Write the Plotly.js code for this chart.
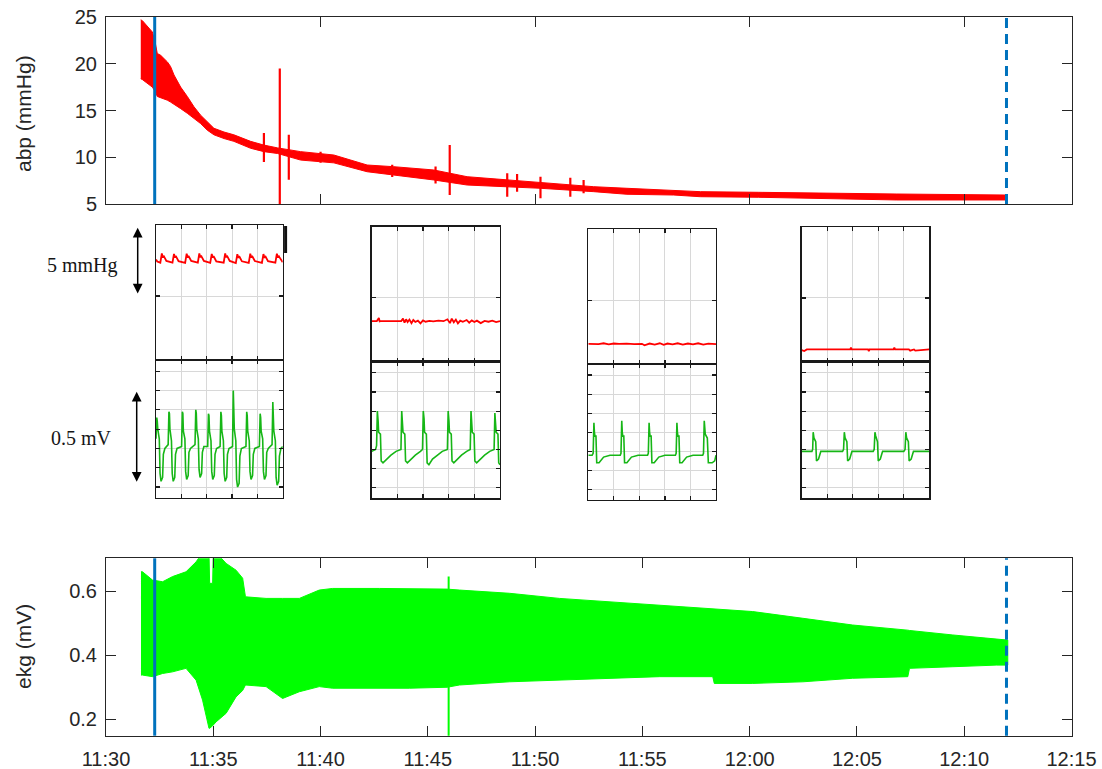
<!DOCTYPE html>
<html>
<head>
<meta charset="utf-8">
<script src="https://cdn.plot.ly/plotly-3.0.1.min.js"></script>
<style>
html,body{margin:0;padding:0;background:#fff;}
#chart{width:1102px;height:769px;}
</style>
</head>
<body>
<div id="chart"></div>
<script>
// ---------- recording overview: time in minutes after 11:30 ----------
const timeTickVals = [0, 5, 10, 15, 20, 25, 30, 35, 40, 45];
const timeTickText = ['11:30','11:35','11:40','11:45','11:50','11:55','12:00','12:05','12:10','12:15'];
const eventTimes = [2.27, 41.97];   // start marker (solid) and end marker (dashed)

// arterial blood pressure envelope (mmHg)
const abpT  = [1.62,1.70,2.16,2.30,2.39,2.55,2.86,3.01,3.17,3.48,3.79,4.10,4.41,4.72,5.03,5.50,5.96,6.74,7.36,8.00,9.07,10.62,11.86,12.17,13.41,15.28,16.83,18.70,20.25,22.73,24.28,26.46,27.70,30.40,33.50,36.86,41.95];
const abpHi = [24.7,24.6,23.4,22.2,21.1,20.9,20.2,19.7,18.8,17.5,16.5,15.4,14.5,13.8,13.1,12.7,12.4,11.7,11.3,11.0,10.6,10.24,9.35,9.17,8.99,8.64,7.92,7.57,7.28,6.85,6.68,6.50,6.32,6.25,6.15,6.07,5.96];
const abpLo = [18.4,18.3,17.5,17.0,16.5,16.4,16.1,15.9,15.7,15.2,14.7,14.2,13.6,12.9,12.4,12.0,11.7,10.96,10.6,10.4,9.7,9.4,8.64,8.45,8.10,7.57,7.03,6.85,6.68,6.32,6.04,5.96,5.78,5.72,5.60,5.43,5.43];
// short artefact transients in abp
const abpSpikeT  = [7.36,8.10,8.52,10.00,13.34,15.36,16.02,18.70,19.16,20.25,21.64,22.26];
const abpSpikeLo = [9.5,4.0,7.6,9.4,7.9,7.2,5.96,5.78,6.32,5.61,5.78,6.14];
const abpSpikeHi = [12.6,19.5,12.4,10.6,9.2,9.0,11.3,8.28,8.21,7.92,7.82,7.57];

// ekg envelope (mV)
const ekgT  = [1.63,1.70,2.17,2.64,3.10,3.73,4.20,4.50,4.80,4.83,4.97,5.00,5.13,5.60,6.06,6.37,6.50,7.46,8.23,9.01,9.94,10.56,12.74,14.14,15.90,16.47,18.80,21.13,23.46,25.80,28.28,28.35,30.14,32.48,34.80,37.37,37.45,39.47,41.49,42.03];
const ekgHi = [0.660,0.660,0.634,0.629,0.645,0.660,0.691,0.720,0.720,0.624,0.624,0.720,0.720,0.686,0.665,0.640,0.582,0.577,0.577,0.577,0.603,0.608,0.608,0.608,0.606,0.603,0.593,0.577,0.567,0.556,0.546,0.545,0.536,0.515,0.494,0.478,0.477,0.463,0.452,0.447];
const ekgLo = [0.338,0.338,0.333,0.343,0.348,0.359,0.322,0.260,0.172,0.172,0.180,0.180,0.192,0.219,0.270,0.290,0.307,0.302,0.265,0.286,0.302,0.297,0.297,0.297,0.300,0.307,0.317,0.322,0.328,0.333,0.333,0.312,0.312,0.317,0.328,0.333,0.359,0.364,0.369,0.369];
const ekgSpikeT  = [15.97];
const ekgSpikeLo = [0.10];
const ekgSpikeHi = [0.645];

// ---------- 5 s detail windows (time in s) ----------
const ins1AbpT = [0.00,0.05,0.17,0.23,0.27,0.30,0.33,0.41, 0.65,0.71,0.75,0.78,0.81,0.89, 1.15,1.21,1.25,1.28,1.31,1.39, 1.65,1.71,1.75,1.78,1.81,1.89, 2.14,2.20,2.24,2.27,2.30,2.38, 2.67,2.73,2.77,2.80,2.83,2.91, 3.15,3.21,3.25,3.28,3.31,3.39, 3.66,3.72,3.76,3.79,3.82,3.90, 4.18,4.24,4.28,4.31,4.34,4.42, 4.71,4.77,4.81,4.84,4.87,4.95,5.00];
const ins1AbpV = [17.70,17.55,17.47,18.15,17.85,17.98,17.88,17.60, 17.47,18.12,17.84,17.96,17.86,17.58, 17.46,18.14,17.85,17.97,17.87,17.60, 17.48,18.16,17.86,18.00,17.88,17.60, 17.45,18.12,17.84,17.95,17.85,17.57, 17.47,18.15,17.86,17.98,17.88,17.60, 17.44,18.10,17.82,17.95,17.85,17.57, 17.46,18.13,17.84,17.97,17.87,17.59, 17.45,18.11,17.83,17.96,17.86,17.58, 17.47,18.14,17.85,17.98,17.88,17.60,17.50];
const ins2AbpT = [0.00,0.20,0.28,0.31,0.34,0.60,0.90,1.15,1.22,1.28,1.34,1.40,1.47,1.55,1.62,1.70,1.80,1.90,2.00,2.10,2.25,2.40,2.60,2.80,2.95,3.05,3.12,3.20,3.28,3.36,3.45,3.55,3.70,3.80,3.90,4.00,4.10,4.25,4.40,4.55,4.70,4.85,5.00];
const ins2AbpV = [13.27,13.27,13.50,13.25,13.27,13.28,13.26,13.27,13.45,13.15,13.40,13.20,13.38,13.12,13.35,13.20,13.30,13.10,13.32,13.22,13.28,13.25,13.30,13.26,13.40,13.12,13.45,13.18,13.38,13.10,13.30,13.22,13.35,13.15,13.32,13.20,13.30,13.12,13.28,13.22,13.30,13.20,13.26];
const ins3AbpT = [0.00,0.40,0.60,0.80,1.00,1.20,1.50,1.80,2.10,2.20,2.40,2.60,2.80,2.95,3.10,3.30,3.50,3.70,3.90,4.10,4.30,4.50,4.70,5.00];
const ins3AbpV = [11.76,11.74,11.80,11.72,11.78,11.75,11.78,11.74,11.76,11.65,11.78,11.70,11.80,11.68,11.78,11.72,11.80,11.70,11.78,11.72,11.80,11.70,11.77,11.74];
const ins4AbpT = [0.00,0.10,0.20,1.00,1.90,1.93,1.96,2.60,2.63,2.66,3.60,3.63,3.66,4.20,4.25,4.40,4.45,5.00];
const ins4AbpV = [11.12,11.05,11.17,11.17,11.17,11.32,11.17,11.17,11.05,11.17,11.17,11.30,11.17,11.17,11.08,11.17,11.08,11.17];

const ins1EkgT = [0.00,0.03,0.05,0.07,0.13,0.16,0.20,0.26,0.29,0.35,0.48,
  0.51,0.53,0.55,0.61,0.64,0.68,0.74,0.77,0.83,1.01,
  1.04,1.06,1.08,1.14,1.17,1.21,1.27,1.30,1.36,1.54,
  1.57,1.59,1.61,1.67,1.70,1.74,1.80,1.83,1.89,2.04,
  2.07,2.09,2.11,2.17,2.20,2.24,2.30,2.33,2.39,2.53,
  2.56,2.58,2.60,2.66,2.69,2.73,2.79,2.82,2.88,3.02,
  3.05,3.07,3.09,3.15,3.18,3.22,3.28,3.31,3.37,3.55,
  3.58,3.60,3.62,3.68,3.71,3.75,3.81,3.84,3.90,4.08,
  4.11,4.13,4.15,4.21,4.24,4.28,4.34,4.37,4.43,4.58,
  4.61,4.63,4.65,4.71,4.74,4.78,4.84,4.87,4.93,5.00];
const ins1EkgV = [0.45,0.56,0.54,0.50,0.45,0.27,0.23,0.25,0.37,0.40,0.42,
  0.59,0.58,0.50,0.44,0.27,0.23,0.25,0.37,0.40,0.41,
  0.59,0.58,0.49,0.45,0.28,0.24,0.26,0.38,0.40,0.42,
  0.60,0.58,0.50,0.45,0.29,0.25,0.27,0.38,0.41,0.41,
  0.58,0.57,0.49,0.44,0.28,0.24,0.26,0.37,0.40,0.41,
  0.59,0.57,0.49,0.44,0.27,0.23,0.25,0.37,0.40,0.41,
  0.70,0.60,0.50,0.44,0.24,0.20,0.22,0.36,0.40,0.41,
  0.59,0.57,0.49,0.44,0.28,0.24,0.26,0.37,0.40,0.41,
  0.58,0.56,0.49,0.45,0.28,0.24,0.26,0.38,0.40,0.42,
  0.64,0.58,0.49,0.44,0.25,0.21,0.23,0.36,0.40,0.41];
const ins2EkgT = [0.00,0.15,0.19,0.22,0.25,0.27,0.34,0.37,0.44,0.58,0.75,0.95,1.14,
  1.17,1.20,1.22,1.29,1.32,1.39,1.53,1.70,1.90,1.98,
  2.01,2.04,2.06,2.13,2.16,2.23,2.37,2.55,2.75,2.95,
  2.98,3.01,3.03,3.10,3.13,3.20,3.34,3.50,3.70,3.84,
  3.87,3.90,3.92,3.99,4.02,4.09,4.23,4.40,4.60,4.77,
  4.80,4.83,4.85,4.92,4.95,5.00];
const ins2EkgV = [0.39,0.40,0.42,0.60,0.55,0.49,0.48,0.34,0.33,0.35,0.37,0.39,0.40,
  0.60,0.55,0.49,0.48,0.34,0.33,0.35,0.37,0.39,0.40,
  0.60,0.56,0.49,0.48,0.33,0.32,0.35,0.37,0.39,0.40,
  0.60,0.55,0.49,0.48,0.34,0.33,0.35,0.37,0.39,0.40,
  0.60,0.55,0.49,0.48,0.34,0.33,0.35,0.37,0.39,0.40,
  0.59,0.55,0.49,0.48,0.33,0.32];
const ins3EkgT = [0.00,0.15,0.19,0.22,0.24,0.26,0.30,0.33,0.42,0.60,0.85,1.25,1.28,
  1.31,1.33,1.35,1.39,1.42,1.51,1.69,1.95,2.32,2.35,
  2.38,2.40,2.42,2.46,2.49,2.58,2.76,3.00,3.41,3.44,
  3.47,3.49,3.51,3.55,3.58,3.67,3.85,4.10,4.48,4.51,
  4.54,4.56,4.58,4.66,4.70,4.85,4.95,5.00];
const ins3EkgV = [0.38,0.38,0.39,0.55,0.50,0.48,0.48,0.34,0.34,0.37,0.38,0.38,0.39,
  0.56,0.50,0.48,0.48,0.34,0.34,0.37,0.38,0.38,0.39,
  0.55,0.50,0.48,0.48,0.34,0.34,0.37,0.38,0.38,0.39,
  0.55,0.50,0.48,0.48,0.34,0.34,0.37,0.38,0.38,0.39,
  0.56,0.50,0.49,0.47,0.34,0.34,0.35,0.38];
const ins4EkgT = [0.00,0.40,0.43,0.45,0.48,0.52,0.55,0.58,0.66,0.75,1.60,1.64,
  1.67,1.70,1.74,1.77,1.80,1.88,1.97,2.80,2.84,
  2.87,2.90,2.94,2.97,3.00,3.08,3.17,4.00,4.05,
  4.08,4.11,4.15,4.18,4.21,4.29,4.38,5.00];
const ins4EkgV = [0.39,0.39,0.40,0.49,0.46,0.45,0.44,0.34,0.35,0.39,0.39,0.40,
  0.49,0.46,0.45,0.44,0.34,0.35,0.39,0.39,0.40,
  0.49,0.47,0.45,0.44,0.34,0.35,0.39,0.39,0.40,
  0.49,0.46,0.45,0.44,0.34,0.35,0.39,0.39];

const insetAbp = [[ins1AbpT, ins1AbpV], [ins2AbpT, ins2AbpV], [ins3AbpT, ins3AbpV], [ins4AbpT, ins4AbpV]];
const insetEkg = [[ins1EkgT, ins1EkgV], [ins2EkgT, ins2EkgV], [ins3EkgT, ins3EkgV], [ins4EkgT, ins4EkgV]];

// ---------- page geometry ----------
const W = 1102, H = 769;
const fx = px => px / W;
const fy = py => 1 - py / H;

const AXIS = '#262626';
const FONT = 'Liberation Sans, Arial, Helvetica, sans-serif';
const SERIF = 'Liberation Serif, Times New Roman, serif';
const RED = '#ff0000', GREEN = '#00ff00', DETAIL_GREEN = '#16b616', BLUE = '#0072bd';

const mainX = [fx(106), fx(1071.5)];
const insetBoxes = [
  {x0: 156.0, x1: 282.7, top: 225.0, mid: 360.0, bot: 497.7},
  {x0: 371.7, x1: 500.0, top: 226.7, mid: 361.7, bot: 498.3},
  {x0: 588.3, x1: 716.0, top: 229.3, mid: 364.0, bot: 500.0},
  {x0: 801.7, x1: 929.3, top: 227.3, mid: 361.7, bot: 498.3}
];

function envelope(t, hi, lo) {
  return {
    x: t.concat(t.slice().reverse()),
    y: hi.concat(lo.slice().reverse())
  };
}
function verticals(t, lo, hi) {
  const x = [], y = [];
  t.forEach((v, i) => { x.push(v, v, null); y.push(lo[i], hi[i], null); });
  return {x, y};
}

const traces = [];
const abpEnv = envelope(abpT, abpHi, abpLo);
traces.push({x: abpEnv.x, y: abpEnv.y, xaxis: 'x', yaxis: 'y', type: 'scatter', mode: 'lines',
  fill: 'toself', fillcolor: RED, line: {color: RED, width: 1}, hoverinfo: 'skip'});
const abpSp = verticals(abpSpikeT, abpSpikeLo, abpSpikeHi);
traces.push({x: abpSp.x, y: abpSp.y, xaxis: 'x', yaxis: 'y', type: 'scatter', mode: 'lines',
  line: {color: RED, width: 2.2}, hoverinfo: 'skip'});

const ekgEnv = envelope(ekgT, ekgHi, ekgLo);
traces.push({x: ekgEnv.x, y: ekgEnv.y, xaxis: 'x2', yaxis: 'y2', type: 'scatter', mode: 'lines',
  fill: 'toself', fillcolor: GREEN, line: {color: GREEN, width: 1}, hoverinfo: 'skip'});
const ekgSp = verticals(ekgSpikeT, ekgSpikeLo, ekgSpikeHi);
traces.push({x: ekgSp.x, y: ekgSp.y, xaxis: 'x2', yaxis: 'y2', type: 'scatter', mode: 'lines',
  line: {color: GREEN, width: 2}, hoverinfo: 'skip'});

const layout = {
  width: W, height: H,
  margin: {l: 0, r: 0, t: 0, b: 0, pad: 0},
  paper_bgcolor: '#ffffff', plot_bgcolor: 'rgba(0,0,0,0)',
  showlegend: false,
  font: {family: FONT, color: AXIS, size: 20},
  xaxis: {domain: mainX, anchor: 'y', range: [0, 45], tickvals: [0, 10, 20, 30, 40],
    showticklabels: false, ticks: 'inside', ticklen: 10, tickcolor: AXIS, tickwidth: 1,
    showline: true, linecolor: AXIS, linewidth: 1, mirror: 'ticks', showgrid: false, zeroline: false},
  yaxis: {domain: [fy(204), fy(17)], anchor: 'x', range: [5, 25], tickvals: [5, 10, 15, 20, 25],
    ticks: 'inside', ticklen: 10, tickcolor: AXIS, showline: true, linecolor: AXIS, linewidth: 1,
    mirror: 'ticks', showgrid: false, zeroline: false, ticklabelstandoff: 4,
    tickfont: {family: FONT, size: 20, color: AXIS}},
  xaxis2: {domain: mainX, anchor: 'y2', range: [0, 45], tickvals: timeTickVals, ticktext: timeTickText,
    ticks: 'inside', ticklen: 10, tickcolor: AXIS, showline: true, linecolor: AXIS, linewidth: 1,
    mirror: 'ticks', showgrid: false, zeroline: false, ticklabelstandoff: 5,
    tickfont: {family: FONT, size: 20, color: AXIS}},
  yaxis2: {domain: [fy(735.7), fy(558.3)], anchor: 'x2', range: [0.149, 0.702], tickvals: [0.2, 0.4, 0.6],
    ticktext: ['0.2', '0.4', '0.6'], ticks: 'inside', ticklen: 10, tickcolor: AXIS, showline: true,
    linecolor: AXIS, linewidth: 1, mirror: 'ticks', showgrid: false, zeroline: false, ticklabelstandoff: 4,
    tickfont: {family: FONT, size: 20, color: AXIS}},
  shapes: [
    {type: 'line', xref: 'x', yref: 'y domain', x0: eventTimes[0], x1: eventTimes[0], y0: 0, y1: 1,
      line: {color: BLUE, width: 3}},
    {type: 'line', xref: 'x', yref: 'y domain', x0: eventTimes[1], x1: eventTimes[1], y0: 0, y1: 1,
      line: {color: BLUE, width: 3, dash: '10px,6px'}},
    {type: 'line', xref: 'x2', yref: 'y2 domain', x0: eventTimes[0], x1: eventTimes[0], y0: 0, y1: 1,
      line: {color: BLUE, width: 3}},
    {type: 'line', xref: 'x2', yref: 'y2 domain', x0: eventTimes[1], x1: eventTimes[1], y0: 0, y1: 1,
      line: {color: BLUE, width: 3, dash: '10px,6px'}},
    // scale bar remnant beside the first detail window
    {type: 'line', xref: 'paper', yref: 'paper', x0: fx(285.6), x1: fx(285.6), y0: fy(226), y1: fy(253),
      line: {color: '#111111', width: 3}}
  ],
  annotations: [
    {text: 'abp (mmHg)', xref: 'paper', yref: 'paper', x: fx(23), y: fy(114), textangle: -90,
      showarrow: false, xanchor: 'center', yanchor: 'middle', font: {family: FONT, size: 21, color: AXIS}},
    {text: 'ekg (mV)', xref: 'paper', yref: 'paper', x: fx(23), y: fy(647), textangle: -90,
      showarrow: false, xanchor: 'center', yanchor: 'middle', font: {family: FONT, size: 21, color: AXIS}},
    {text: '5 mmHg', xref: 'paper', yref: 'paper', x: fx(82), y: fy(265), showarrow: false,
      xanchor: 'center', yanchor: 'middle', font: {family: SERIF, size: 20, color: '#151515'}},
    {text: '0.5 mV', xref: 'paper', yref: 'paper', x: fx(81), y: fy(438), showarrow: false,
      xanchor: 'center', yanchor: 'middle', font: {family: SERIF, size: 20, color: '#151515'}},
    {text: '', xref: 'paper', yref: 'paper', x: fx(137.7), y: fy(227.7), ax: 0, ay: 67.3,
      showarrow: true, arrowside: 'end+start', arrowhead: 2, startarrowhead: 2, arrowsize: 1.3,
      startarrowsize: 1.3, arrowwidth: 1.5, arrowcolor: '#000000', standoff: 0, startstandoff: 0},
    {text: '', xref: 'paper', yref: 'paper', x: fx(136.7), y: fy(391.7), ax: 0, ay: 91.6,
      showarrow: true, arrowside: 'end+start', arrowhead: 2, startarrowhead: 2, arrowsize: 1.3,
      startarrowsize: 1.3, arrowwidth: 1.5, arrowcolor: '#000000', standoff: 0, startstandoff: 0}
  ]
};

const INSET_LINE = '#1a1a1a';
insetBoxes.forEach((b, i) => {
  const na = 3 + 2 * i, ne = 4 + 2 * i;
  const common = {
    ticks: 'inside', ticklen: 4, tickcolor: INSET_LINE, tickwidth: 1.2,
    showline: true, linecolor: INSET_LINE, linewidth: 1.3, mirror: 'ticks',
    showgrid: true, gridcolor: '#d8d8d8', gridwidth: 1, zeroline: false, showticklabels: false
  };
  layout['xaxis' + na] = Object.assign({domain: [fx(b.x0), fx(b.x1)], anchor: 'y' + na,
    range: [0, 5], tickvals: [1, 2, 3, 4]}, common);
  layout['yaxis' + na] = Object.assign({domain: [fy(b.mid), fy(b.top)], anchor: 'x' + na,
    range: [10.26, 20.26], tickvals: [15]}, common);
  layout['xaxis' + ne] = Object.assign({domain: [fx(b.x0), fx(b.x1)], anchor: 'y' + ne,
    range: [0, 5], tickvals: [1, 2, 3, 4]}, common);
  layout['yaxis' + ne] = Object.assign({domain: [fy(b.bot), fy(b.mid)], anchor: 'x' + ne,
    range: [0.145, 0.858], tickvals: [0.2, 0.3, 0.4, 0.5, 0.6, 0.7, 0.8]}, common);

  traces.push({x: insetAbp[i][0], y: insetAbp[i][1], xaxis: 'x' + na, yaxis: 'y' + na,
    type: 'scatter', mode: 'lines', line: {color: RED, width: 1.8}, hoverinfo: 'skip'});
  traces.push({x: insetEkg[i][0], y: insetEkg[i][1], xaxis: 'x' + ne, yaxis: 'y' + ne,
    type: 'scatter', mode: 'lines', line: {color: DETAIL_GREEN, width: 1.6}, hoverinfo: 'skip'});
});

Plotly.newPlot('chart', traces, layout, {staticPlot: true, displayModeBar: false});
</script>
</body>
</html>
